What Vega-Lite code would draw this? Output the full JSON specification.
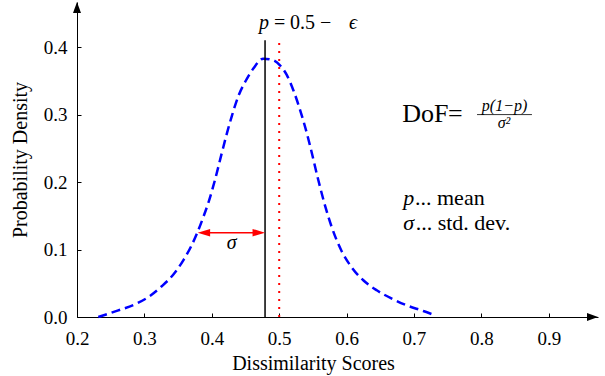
{
  "$schema": "https://vega.github.io/schema/vega-lite/v6.json",
  "width": 521,
  "height": 315,
  "autosize": {"type": "none"},
  "padding": {"left": 77, "top": 2, "right": 7, "bottom": 59},
  "config": {
    "view": {"stroke": null},
    "font": "'Liberation Serif', 'DejaVu Serif', serif",
    "text": {"font": "'Liberation Serif', 'DejaVu Serif', serif"},
    "axis": {
      "domainColor": "#000",
      "tickColor": "#000",
      "labelColor": "#000",
      "titleColor": "#000",
      "grid": false,
      "labelFont": "'Liberation Serif', 'DejaVu Serif', serif",
      "titleFont": "'Liberation Serif', 'DejaVu Serif', serif",
      "labelFontSize": 19,
      "titleFontSize": 20,
      "titleFontWeight": "normal",
      "tickSize": -4,
      "domainWidth": 1,
      "tickWidth": 1,
      "labelFlush": false,
      "labelOverlap": false
    }
  },
  "encoding": {
    "x": {
      "field": "x",
      "type": "quantitative",
      "scale": {"domain": [0.2, 0.973], "nice": false, "zero": false},
      "axis": {
        "values": [0.2, 0.3, 0.4, 0.5, 0.6, 0.7, 0.8, 0.9],
        "format": ".1f",
        "labelPadding": 16,
        "title": "Dissimilarity Scores",
        "titleX": 236,
        "titlePadding": 5
      }
    },
    "y": {
      "field": "y",
      "type": "quantitative",
      "scale": {"domain": [0, 0.4667], "nice": false, "zero": false},
      "axis": {
        "values": [0, 0.1, 0.2, 0.3, 0.4],
        "format": ".1f",
        "labelPadding": 14,
        "title": "Probability Density",
        "titlePadding": 13
      }
    }
  },
  "layer": [
    {
      "data": {"values": [
        {"x": 0.2316, "y": 0.0}, {"x": 0.259, "y": 0.009}, {"x": 0.2886, "y": 0.020},
        {"x": 0.308, "y": 0.031}, {"x": 0.3257, "y": 0.0455}, {"x": 0.343, "y": 0.063},
        {"x": 0.3577, "y": 0.084}, {"x": 0.370, "y": 0.106}, {"x": 0.3785, "y": 0.125},
        {"x": 0.3874, "y": 0.148}, {"x": 0.3948, "y": 0.169}, {"x": 0.4047, "y": 0.203},
        {"x": 0.4146, "y": 0.242}, {"x": 0.4221, "y": 0.271}, {"x": 0.4295, "y": 0.297},
        {"x": 0.4393, "y": 0.327}, {"x": 0.4518, "y": 0.3525}, {"x": 0.4616, "y": 0.368},
        {"x": 0.4764, "y": 0.3828}, {"x": 0.4912, "y": 0.3803}, {"x": 0.5012, "y": 0.3729},
        {"x": 0.511, "y": 0.359}, {"x": 0.521, "y": 0.336}, {"x": 0.5309, "y": 0.307},
        {"x": 0.5408, "y": 0.273}, {"x": 0.5457, "y": 0.254}, {"x": 0.558, "y": 0.203},
        {"x": 0.568, "y": 0.165}, {"x": 0.578, "y": 0.133}, {"x": 0.5927, "y": 0.0975},
        {"x": 0.6076, "y": 0.0735}, {"x": 0.6248, "y": 0.0544}, {"x": 0.6447, "y": 0.0396},
        {"x": 0.667, "y": 0.0273}, {"x": 0.689, "y": 0.0173}, {"x": 0.7138, "y": 0.0089},
        {"x": 0.731, "y": 0.0025}
      ]},
      "mark": {"type": "line", "color": "#0000ff", "strokeWidth": 2.5, "strokeDash": [9, 5], "interpolate": "monotone"}
    },
    {
      "data": {"values": [{"x": 0.479, "y": 0, "y2": 0.41}]},
      "mark": {"type": "rule", "color": "#000", "strokeWidth": 1.5},
      "encoding": {"y2": {"field": "y2"}}
    },
    {
      "data": {"values": [{"x": 0.5, "y": 0, "y2": 0.41}]},
      "mark": {"type": "rule", "color": "#ff0000", "strokeWidth": 2, "strokeDash": [2, 6]},
      "encoding": {"y2": {"field": "y2"}}
    },
    {
      "data": {"values": [{"x": 0.385, "x2": 0.473, "y": 0.125}]},
      "mark": {"type": "rule", "color": "#ff0000", "strokeWidth": 1.5},
      "encoding": {"x2": {"field": "x2"}}
    },
    {
      "data": {"values": [{"x": 0.479, "y": 0.125}]},
      "mark": {"type": "point", "shape": "M0,0L-2.5,-0.75L-2.5,0.75Z", "size": 100, "filled": true, "color": "#ff0000", "opacity": 1, "strokeWidth": 0}
    },
    {
      "data": {"values": [{"x": 0.379, "y": 0.125}]},
      "mark": {"type": "point", "shape": "M0,0L2.5,-0.75L2.5,0.75Z", "size": 100, "filled": true, "color": "#ff0000", "opacity": 1, "strokeWidth": 0}
    },
    {
      "data": {"values": [{"x": 0.973, "y": 0}]},
      "mark": {"type": "point", "shape": "M0,0L-2.2,-0.8L-2.2,0.8Z", "size": 100, "filled": true, "color": "#000", "opacity": 1, "strokeWidth": 0}
    },
    {
      "data": {"values": [{"x": 0.2, "y": 0.4667}]},
      "mark": {"type": "point", "shape": "M0,0L-0.8,2.2L0.8,2.2Z", "size": 100, "filled": true, "color": "#000", "opacity": 1, "strokeWidth": 0}
    },
    {
      "data": {"values": [{"x": 0.7935, "x2": 0.875, "y": 0.2999}]},
      "mark": {"type": "rule", "color": "#000", "strokeWidth": 0.8},
      "encoding": {"x2": {"field": "x2"}}
    },
    {
      "data": {"values": [
        {"x": 0.470, "y": 0.427, "text": "p"},
        {"x": 0.6036, "y": 0.427, "text": "ϵ"}
      ]},
      "mark": {"type": "text", "fontSize": 20, "fontStyle": "italic", "align": "left", "baseline": "alphabetic", "color": "#000"},
      "encoding": {"text": {"field": "text"}}
    },
    {
      "data": {"values": [
        {"x": 0.4923, "y": 0.427, "text": "="},
        {"x": 0.516, "y": 0.427, "text": "0.5"},
        {"x": 0.5605, "y": 0.427, "text": "−"}
      ]},
      "mark": {"type": "text", "fontSize": 20, "align": "left", "baseline": "alphabetic", "color": "#000"},
      "encoding": {"text": {"field": "text"}}
    },
    {
      "data": {"values": [
        {"x": 0.6827, "y": 0.2889, "text": "DoF"},
        {"x": 0.7505, "y": 0.2889, "text": "="}
      ]},
      "mark": {"type": "text", "fontSize": 26, "align": "left", "baseline": "alphabetic", "color": "#000"},
      "encoding": {"text": {"field": "text"}}
    },
    {
      "data": {"values": [
        {"x": 0.8343, "y": 0.3052, "text": "p(1−p)"},
        {"x": 0.8335, "y": 0.2805, "text": "σ²"}
      ]},
      "mark": {"type": "text", "fontSize": 16, "fontStyle": "italic", "align": "center", "baseline": "alphabetic", "color": "#000"},
      "encoding": {"text": {"field": "text"}}
    },
    {
      "data": {"values": [
        {"x": 0.6842, "y": 0.1655, "text": "p"},
        {"x": 0.6842, "y": 0.1284, "text": "σ"}
      ]},
      "mark": {"type": "text", "fontSize": 22, "fontStyle": "italic", "align": "left", "baseline": "alphabetic", "color": "#000"},
      "encoding": {"text": {"field": "text"}}
    },
    {
      "data": {"values": [
        {"x": 0.7015, "y": 0.1655, "text": "... mean"},
        {"x": 0.7025, "y": 0.1284, "text": "... std. dev."}
      ]},
      "mark": {"type": "text", "fontSize": 22, "align": "left", "baseline": "alphabetic", "color": "#000"},
      "encoding": {"text": {"field": "text"}}
    },
    {
      "data": {"values": [{"x": 0.4295, "y": 0.1013, "text": "σ"}]},
      "mark": {"type": "text", "fontSize": 20, "fontStyle": "italic", "align": "center", "baseline": "alphabetic", "color": "#000"},
      "encoding": {"text": {"field": "text"}}
    }
  ]
}
